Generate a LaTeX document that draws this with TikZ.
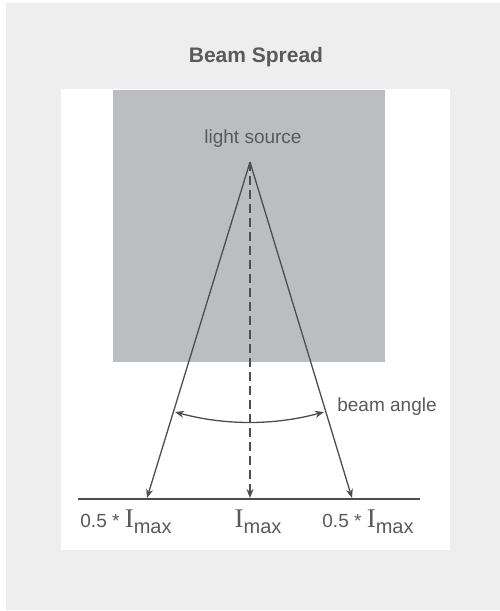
\documentclass[tikz,border=0pt]{standalone}
\usepackage{fontspec}
\setmainfont{Liberation Sans}
\newfontfamily\serifI{Liberation Serif}
\usepackage{tikz}
\usetikzlibrary{arrows.meta,positioning}
\definecolor{panelgray}{HTML}{EEEEEE}
\definecolor{boxgray}{HTML}{BCBDC0}
\definecolor{inkgray}{HTML}{4D4D4D}
\definecolor{textgray}{HTML}{5A5A5A}
\tikzset{
    ray/.style={
    draw=inkgray,line width=1.3pt,-{Stealth[length=9pt,width=7pt]}
    },
    axisray/.style={
    ray,dash pattern=on 9pt off 5pt
    },
    anglearc/.style={
    draw=inkgray,line width=1.3pt,{Stealth[length=9pt,width=7pt]}-{Stealth[length=9pt,width=7pt]}
    },
    label/.style={
    text=textgray,inner sep=0pt,anchor=base,font=\fontsize{19}{22}\selectfont
    },
}
\newcommand{\Imax}{{\serifI\fontsize{27}{27}\selectfont I}\raisebox{-6pt}{\fontsize{20}{20}\selectfont max}}

\begin{document}
\begin{tikzpicture}[x=1pt,y=-1pt]
   \useasboundingbox (0,0) rectangle (500,611);
   \fill[panelgray] (6,3) rectangle (500,610);
   \fill[white] (61,89) rectangle (450,550);
   \fill[boxgray] (113,90) rectangle (385,362);
   \node[label,text=textgray,font=\fontsize{21}{24}\selectfont\bfseries] (title) at (256,62) {Beam Spread};
   \node[label] (src) at (253,143) {light source};
   \node[label] (angle) at (387,411) {beam angle};
   \node[label] (lleft) at (126,527) {0.5 * \Imax};
   \node[label] (lmid) at (258,527) {\Imax};
   \node[label] (lright) at (368,527) {0.5 * \Imax};

   \coordinate (apex) at (250,162);
   \coordinate (hl) at (147,498);
   \coordinate (hc) at (250,498);
   \coordinate (hr) at (352,498);
   \coordinate (gl) at (78,499);
   \coordinate (gr) at (420,499);
   \coordinate (al) at (175,412);
   \coordinate (ar) at (324,412);

   \draw[inkgray,line width=1.3pt] (gl) -- (gr);
   \path[ray] (apex) -- (hl);
   \path[ray] (apex) -- (hr);
   \path[axisray] (apex) -- (hc);
   \path[anglearc] (al) .. controls (225,425.5) and (274,425.5) .. (ar);
  \end{tikzpicture}
\end{document}
